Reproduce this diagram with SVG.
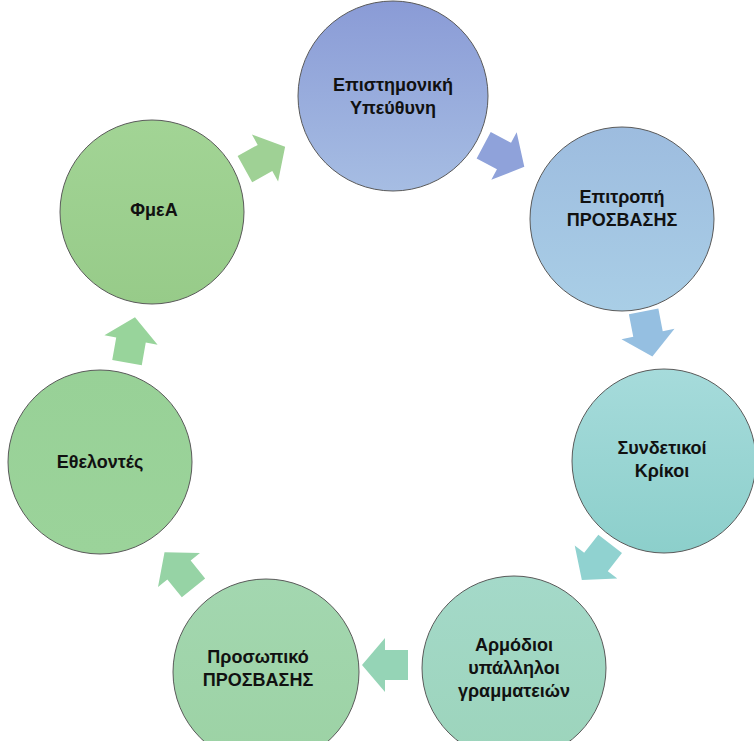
<svg xmlns="http://www.w3.org/2000/svg" width="754" height="741" viewBox="0 0 754 741">
<defs>
<style>
.n{stroke:#5a5a5a;stroke-width:1}
.t{font-family:"Liberation Sans",Arial,sans-serif;font-weight:bold;font-size:18px;fill:#111;text-anchor:middle}
</style>
<linearGradient id="g1" x1="0" y1="0" x2="0" y2="1"><stop offset="0" stop-color="#8a9bd6"/><stop offset="1" stop-color="#a6bde3"/></linearGradient>
<linearGradient id="g2" x1="0" y1="0" x2="0" y2="1"><stop offset="0" stop-color="#9dbcdf"/><stop offset="1" stop-color="#a9cee6"/></linearGradient>
<linearGradient id="g3" x1="0" y1="0" x2="0" y2="1"><stop offset="0" stop-color="#a6dbdb"/><stop offset="1" stop-color="#8ccfcb"/></linearGradient>
<linearGradient id="g4" x1="0" y1="0" x2="0" y2="1"><stop offset="0" stop-color="#a4d9c9"/><stop offset="1" stop-color="#9cd4bb"/></linearGradient>
<linearGradient id="g5" x1="0" y1="0" x2="0" y2="1"><stop offset="0" stop-color="#a3d7b0"/><stop offset="1" stop-color="#9cd2a4"/></linearGradient>
<linearGradient id="g6" x1="0" y1="0" x2="0" y2="1"><stop offset="0" stop-color="#98d197"/><stop offset="1" stop-color="#9bd39a"/></linearGradient>
<linearGradient id="g7" x1="0" y1="0" x2="0" y2="1"><stop offset="0" stop-color="#a2d495"/><stop offset="1" stop-color="#97cb89"/></linearGradient>
<path id="arr" d="M-23,-15 L0,-15 L0,-27 L23,0 L0,27 L0,15 L-23,15 Z"/>
</defs>
<rect width="754" height="741" fill="#ffffff"/>
<g id="connectors">
<use href="#arr" transform="translate(504,156) rotate(28)" fill="#8fa2da"/>
<use href="#arr" transform="translate(648,334) rotate(79)" fill="#95bfe1"/>
<use href="#arr" transform="translate(596,562) rotate(128)" fill="#90d2d0"/>
<use href="#arr" transform="translate(385,665) rotate(180)" fill="#95d4b6"/>
<use href="#arr" transform="translate(179,570) rotate(-129)" fill="#96d3a5"/>
<use href="#arr" transform="translate(131,340) rotate(-80)" fill="#98d49b"/>
<use href="#arr" transform="translate(265,158) rotate(-29)" fill="#9fd195"/>
</g>
<g id="n1"><circle class="n" cx="393" cy="96" r="95" fill="url(#g1)"/><text class="t" x="393" y="91">Επιστημονική</text><text class="t" x="393" y="114">Υπεύθυνη</text></g>
<g id="n2"><circle class="n" cx="622" cy="219" r="92" fill="url(#g2)"/><text class="t" x="622" y="203">Επιτροπή</text><text class="t" x="622" y="226">ΠΡΟΣΒΑΣΗΣ</text></g>
<g id="n3"><circle class="n" cx="664" cy="461" r="92" fill="url(#g3)"/><text class="t" x="662" y="454">Συνδετικοί</text><text class="t" x="662" y="477">Κρίκοι</text></g>
<g id="n4"><circle class="n" cx="514" cy="668" r="92" fill="url(#g4)"/><text class="t" x="514" y="651">Αρμόδιοι</text><text class="t" x="514" y="674">υπάλληλοι</text><text class="t" x="514" y="697">γραμματειών</text></g>
<g id="n5"><circle class="n" cx="266" cy="672" r="93" fill="url(#g5)"/><text class="t" x="258" y="663">Προσωπικό</text><text class="t" x="258" y="686">ΠΡΟΣΒΑΣΗΣ</text></g>
<g id="n6"><circle class="n" cx="100" cy="462" r="92" fill="url(#g6)"/><text class="t" x="100" y="468">Εθελοντές</text></g>
<g id="n7"><circle class="n" cx="152" cy="212" r="92" fill="url(#g7)"/><text class="t" x="154" y="216">ΦμεΑ</text></g>
</svg>
